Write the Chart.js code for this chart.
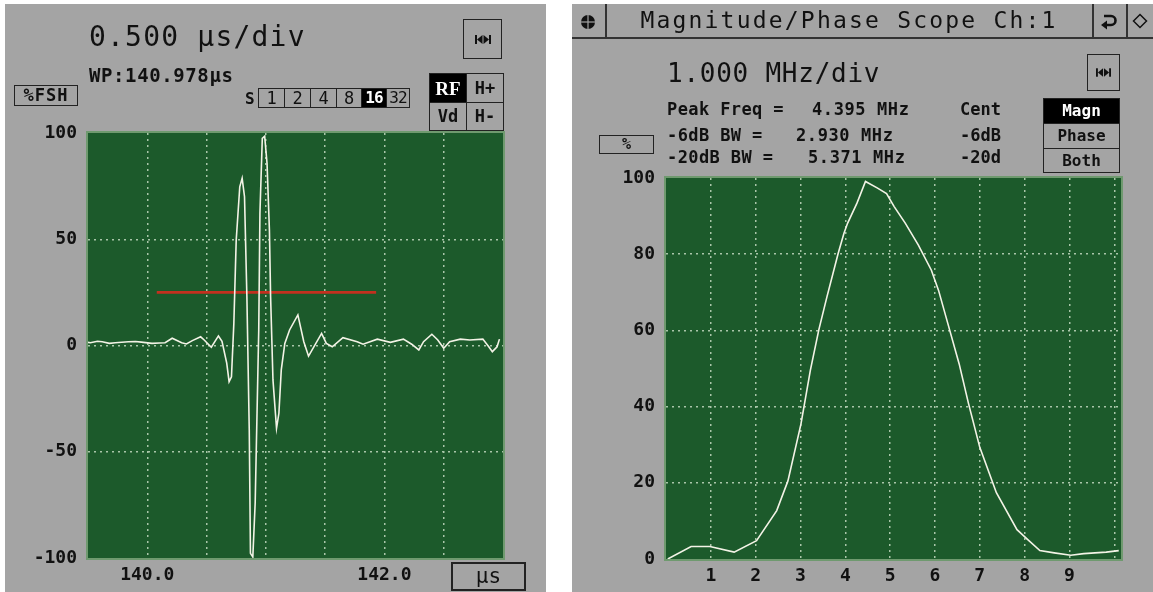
<!DOCTYPE html>
<html><head><meta charset="utf-8">
<script src="https://cdn.jsdelivr.net/npm/chart.js@4/dist/chart.umd.min.js"></script>
<style>
html,body{margin:0;padding:0;background:#fff;width:1153px;height:592px;overflow:hidden;font-family:"DejaVu Sans Mono",monospace;color:#111}
.panel{position:absolute;background:#a4a4a4}
canvas{position:absolute}
.t{position:absolute;white-space:nowrap;line-height:1}
.b{font-weight:bold}
.box{position:absolute;box-sizing:border-box;border:1.5px solid #222;display:flex;align-items:center;justify-content:center;line-height:1;white-space:nowrap}
.inv{background:#000;color:#fff}
.ln{position:absolute;background:#333}
svg{position:absolute}
</style></head><body>
<div class="panel" style="left:5px;top:4px;width:541px;height:588px"></div>
<div class="panel" style="left:572px;top:4px;width:581px;height:588px"></div>
<canvas id="left" width="541" height="588" style="left:5px;top:4px"></canvas>
<canvas id="right" width="581" height="588" style="left:572px;top:4px"></canvas>

<!-- left panel header -->
<div class="t" style="left:89px;top:23px;font-size:28px;letter-spacing:1.2px">0.500 µs/div</div>
<div class="t b" style="left:89px;top:66px;font-size:19px;letter-spacing:0.6px">WP:140.978µs</div>
<div class="box b" style="left:14px;top:85px;width:64px;height:21px;font-size:17px;letter-spacing:1px">%FSH</div>
<div class="t b" style="left:245px;top:91px;font-size:16px">S</div>
<div class="box" style="left:258px;top:88px;width:27px;height:20px;font-size:17px">1</div>
<div class="box" style="left:284px;top:88px;width:27px;height:20px;font-size:17px">2</div>
<div class="box" style="left:310px;top:88px;width:27px;height:20px;font-size:17px">4</div>
<div class="box" style="left:336px;top:88px;width:26px;height:20px;font-size:17px">8</div>
<div class="box inv b" style="left:361px;top:88px;width:26px;height:20px;font-size:16px;letter-spacing:-1px">16</div>
<div class="box" style="left:386px;top:88px;width:24px;height:20px;font-size:16px;letter-spacing:-1px">32</div>
<div class="box inv b" style="left:429px;top:73px;width:38px;height:30px;font-size:19px;font-family:'Liberation Serif',serif">RF</div>
<div class="box b" style="left:466px;top:73px;width:38px;height:30px;font-size:17px">H+</div>
<div class="box b" style="left:429px;top:102px;width:38px;height:29px;font-size:17px">Vd</div>
<div class="box b" style="left:466px;top:102px;width:38px;height:29px;font-size:17px">H-</div>
<div class="box" style="left:463px;top:19px;width:39px;height:40px"></div>
<svg style="left:475px;top:35px" width="16" height="9" viewBox="0 0 16 9"><rect x="0" y="0" width="2" height="9" fill="#111"/><rect x="14" y="0" width="2" height="9" fill="#111"/><polygon points="2,4.5 7.5,0 7.5,9" fill="#111"/><polygon points="14,4.5 8.5,0 8.5,9" fill="#111"/></svg>
<div class="box" style="left:451px;top:562px;width:75px;height:29px;border-width:2px;font-size:21px">µs</div>

<!-- right panel header -->
<div class="ln" style="left:572px;top:37px;width:581px;height:2px"></div>
<div class="ln" style="left:605px;top:4px;width:1.5px;height:34px"></div>
<div class="ln" style="left:1092px;top:4px;width:1.5px;height:34px"></div>
<div class="ln" style="left:1126px;top:4px;width:1.5px;height:34px"></div>
<svg style="left:580px;top:14px" width="16" height="16" viewBox="0 0 16 16"><circle cx="8" cy="8" r="7" fill="#111"/><line x1="0" y1="8" x2="16" y2="8" stroke="#a4a4a4" stroke-width="1.2"/><line x1="8" y1="0" x2="8" y2="16" stroke="#a4a4a4" stroke-width="1.2"/></svg>
<div class="t" style="left:606px;width:486px;text-align:center;top:9px;font-size:23px;letter-spacing:2.2px">Magnitude/Phase Scope Ch:1</div>
<svg style="left:1100px;top:12px" width="18" height="18" viewBox="0 0 18 18"><path d="M4 4 H11 A4.5 4.5 0 0 1 11 13 H6" fill="none" stroke="#111" stroke-width="2.6"/><polygon points="1,13 7,8.5 7,17.5" fill="#111"/></svg>
<svg style="left:1132px;top:13px" width="16" height="16" viewBox="0 0 16 16"><polygon points="8,1.5 14.5,8 8,14.5 1.5,8" fill="none" stroke="#111" stroke-width="1.5"/></svg>
<div class="t" style="left:667px;top:60px;font-size:26px;letter-spacing:0.75px">1.000 MHz/div</div>
<div class="box" style="left:1087px;top:54px;width:33px;height:37px"></div>
<svg style="left:1096px;top:68px" width="15" height="9" viewBox="0 0 16 9"><rect x="0" y="0" width="2" height="9" fill="#111"/><rect x="14" y="0" width="2" height="9" fill="#111"/><polygon points="2,4.5 7.5,0 7.5,9" fill="#111"/><polygon points="14,4.5 8.5,0 8.5,9" fill="#111"/></svg>
<div class="t b" style="left:667px;top:101px;font-size:17px;letter-spacing:0.4px">Peak Freq =</div>
<div class="t b" style="left:812px;top:101px;font-size:17px;letter-spacing:0.6px">4.395 MHz</div>
<div class="t b" style="right:152px;top:101px;font-size:17px">Cent</div>
<div class="t b" style="left:667px;top:127px;font-size:17px;letter-spacing:0.4px">-6dB BW =</div>
<div class="t b" style="left:796px;top:127px;font-size:17px;letter-spacing:0.6px">2.930 MHz</div>
<div class="t b" style="right:152px;top:127px;font-size:17px">-6dB</div>
<div class="t b" style="left:667px;top:149px;font-size:17px;letter-spacing:0.4px">-20dB BW =</div>
<div class="t b" style="left:808px;top:149px;font-size:17px;letter-spacing:0.6px">5.371 MHz</div>
<div class="t b" style="right:152px;top:149px;font-size:17px">-20d</div>
<div class="box b" style="left:599px;top:135px;width:55px;height:19px;font-size:15px">%</div>
<div class="box inv b" style="left:1043px;top:98px;width:77px;height:26px;font-size:16px">Magn</div>
<div class="box b" style="left:1043px;top:123px;width:77px;height:26px;font-size:16px">Phase</div>
<div class="box b" style="left:1043px;top:148px;width:77px;height:25px;font-size:16px">Both</div>

<script>
// ---- Left panel: RF waveform (time in µs, amplitude in %FSH) ----
const waveTime = [139.50,139.52,139.58,139.62,139.68,139.73,139.84,139.90,139.95,140.04,140.10,140.15,140.21,140.29,140.33,140.38,140.45,140.48,140.54,140.60,140.63,140.67,140.69,140.71,140.73,140.75,140.78,140.80,140.82,140.84,140.86,140.87,140.89,140.91,140.94,140.95,140.97,140.99,141.01,141.03,141.04,141.06,141.09,141.11,141.13,141.16,141.20,141.27,141.32,141.36,141.47,141.51,141.56,141.65,141.77,141.82,141.94,142.05,142.16,142.23,142.29,142.33,142.40,142.45,142.50,142.55,142.64,142.72,142.83,142.88,142.91,142.95,142.97];
const waveAmp  = [1.5,1.3,2.0,1.8,1.0,1.3,1.8,1.9,1.6,1.0,1.2,1.3,3.4,1.3,0.7,2.3,4.1,2.6,-0.8,4.5,2.0,-8.3,-17,-14.7,10.4,49.6,74.7,78.7,70,23,-39.8,-97.8,-99.5,-74,7.3,62.2,97.5,98.5,85.7,54.4,23,-16.2,-39,-31.9,-11.5,1,7.3,14.4,1.8,-5,5.7,1,-0.6,3.7,1.8,0.6,3,1.5,3,0.6,-2.1,1.8,5.3,2.6,-1.3,1.8,3,2.6,3,-0.6,-2.9,-0.6,3];
const gateTime  = [140.08, 141.93];
const gateLevel = [25, 25];
const leftXTicks  = [139.5,140,140.5,141,141.5,142,142.5,143];
const leftXLabels = ['','140.0','','','','142.0','',''];
const leftYTicks  = [-100,-50,0,50,100];
const leftYLabels = ['-100','-50','0','50','100'];

// ---- Right panel: magnitude spectrum (MHz, %) ----
const freqMHz   = [0.04,0.56,0.98,1.52,2.02,2.47,2.72,3.01,3.22,3.41,3.59,3.84,3.97,4.05,4.26,4.45,4.71,4.92,5.09,5.34,5.63,5.92,6.08,6.33,6.54,6.75,7.00,7.37,7.83,8.07,8.34,8.66,9.03,9.32,9.82,10.1];
const magnitude = [0,3.3,3.3,1.8,4.8,12.7,20.5,35.4,49.5,60.2,68.8,80.2,85.5,88.1,93.4,99.1,97.4,95.9,92.5,88.1,82.4,75.8,70.5,60.0,51.2,40.7,29.3,17.4,7.7,5.1,2.2,1.6,1.0,1.4,1.8,2.2];
const rightXTicks  = [0,1,2,3,4,5,6,7,8,9,10];
const rightXLabels = ['','1','2','3','4','5','6','7','8','9',''];
const rightYTicks  = [0,20,40,60,80,100];
const rightYLabels = ['0','20','40','60','80','100'];

const FONT = "'DejaVu Sans Mono', monospace";
const GRID = '#a9c6a9';
const TICKFONT = {family: FONT, size: 18, weight: 'bold'};

const scopeArea = {
  id: 'scopeArea',
  beforeDraw(chart) {
    const {ctx, chartArea: a} = chart;
    ctx.save();
    ctx.fillStyle = '#1c5a2b';
    ctx.fillRect(a.left, a.top, a.width, a.height);
    ctx.restore();
  },
  afterDatasetsDraw(chart) {
    const {ctx, chartArea: a} = chart;
    ctx.save();
    ctx.strokeStyle = '#6f9a6f';
    ctx.lineWidth = 2;
    ctx.strokeRect(a.left - 1, a.top - 1, a.width + 2, a.height + 2);
    ctx.restore();
  }
};

function axis(min, max, ticks, labels, fit, isX) {
  return {
    type: 'linear', min, max,
    afterBuildTicks: s => { s.ticks = ticks.map(v => ({value: v})); },
    afterFit: s => { if (isX) s.height = fit; else s.width = fit; },
    grid: {
      color: c => (c.tick && (c.tick.value === min || c.tick.value === max)) ? 'rgba(0,0,0,0)' : GRID,
      lineWidth: 1.5, drawTicks: false
    },
    border: {display: false, dash: [2, 4]},
    ticks: {
      autoSkip: false, maxRotation: 0, minRotation: 0,
      padding: isX ? 7 : 11, color: '#111', font: TICKFONT,
      callback: (v, i) => labels[i]
    }
  };
}

const common = {
  responsive: false, animation: false, events: [],
  plugins: {legend: {display: false}, tooltip: {enabled: false}}
};

new Chart(document.getElementById('left'), {
  type: 'line',
  data: {datasets: [
    {data: waveTime.map((t, i) => ({x: t, y: waveAmp[i]})), borderColor: '#f3f3e6', borderWidth: 1.6, pointRadius: 0, tension: 0, order: 0},
    {data: gateTime.map((t, i) => ({x: t, y: gateLevel[i]})), borderColor: '#c3301f', borderWidth: 2.6, pointRadius: 0, order: 1}
  ]},
  options: Object.assign({}, common, {
    layout: {padding: {top: 129, right: 43, left: 0, bottom: 0}},
    scales: {
      x: axis(139.5, 143, leftXTicks, leftXLabels, 34, true),
      y: axis(-100, 100, leftYTicks, leftYLabels, 83, false)
    }
  }),
  plugins: [scopeArea]
});

new Chart(document.getElementById('right'), {
  type: 'line',
  data: {datasets: [
    {data: freqMHz.map((f, i) => ({x: f, y: magnitude[i]})), borderColor: '#f3f3e6', borderWidth: 1.6, pointRadius: 0, tension: 0}
  ]},
  options: Object.assign({}, common, {
    layout: {padding: {top: 174, right: 32, left: 0, bottom: 0}},
    scales: {
      x: axis(0, 10.15, rightXTicks, rightXLabels, 33, true),
      y: axis(0, 100, rightYTicks, rightYLabels, 94, false)
    }
  }),
  plugins: [scopeArea]
});
</script>
</body></html>
